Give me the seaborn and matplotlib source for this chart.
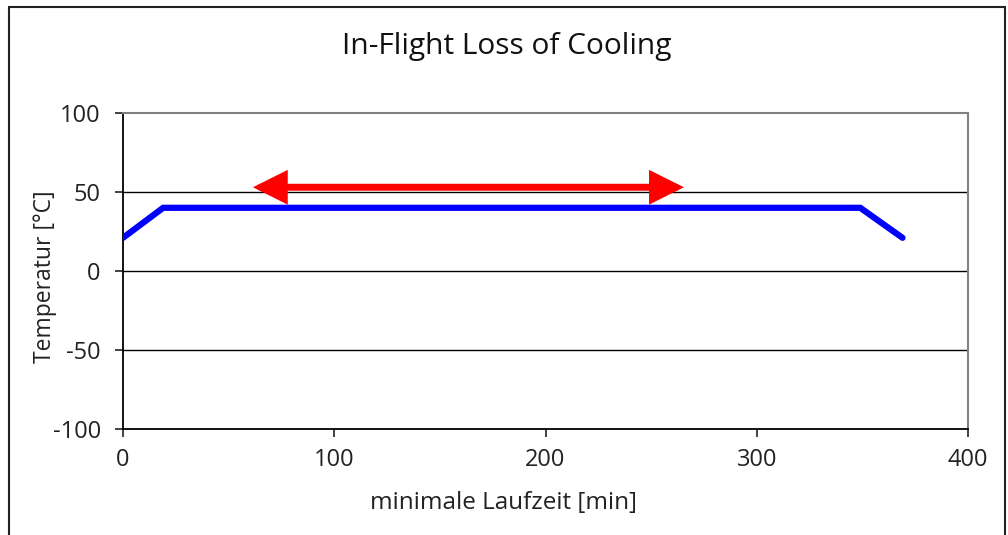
import matplotlib
matplotlib.use("Agg")
import matplotlib.pyplot as plt
import seaborn as sns
import pandas as pd
from matplotlib.patches import Rectangle

# Data
time_min = [0, 19, 349, 369]
temperature = [21, 40, 40, 21]
arrow_x = [61.5, 265.5]
arrow_y = 53
x_ticks = [0, 100, 200, 300, 400]
y_ticks = [-100, -50, 0, 50, 100]
title = "In-Flight Loss of Cooling"
xlabel = "minimale Laufzeit [min]"
ylabel = "Temperatur [°C]"

sns.set_theme(style="white")
plt.rcParams['font.family'] = ['Open Sans', 'DejaVu Sans']

fig = plt.figure(figsize=(10.08, 5.35), dpi=100)
ax = fig.add_axes([123/1008, 1-429/535, (968-123)/1008, (429-113)/535])

df = pd.DataFrame({"t": time_min, "T": temperature})
sns.lineplot(data=df, x="t", y="T", ax=ax, color="#0000FF", lw=4.5,
             solid_capstyle="round", solid_joinstyle="miter", zorder=3)

ax.annotate("", xy=(arrow_x[0], arrow_y), xytext=(arrow_x[1], arrow_y),
            arrowprops=dict(arrowstyle="<|-|>,head_length=17,head_width=8.5",
                            mutation_scale=1, color="#FF0000", lw=5,
                            shrinkA=0, shrinkB=0, joinstyle="miter"),
            zorder=4)

ax.set_xlim(0, 400)
ax.set_ylim(-100, 100)
ax.set_xticks(x_ticks)
ax.set_yticks(y_ticks)
ax.set_yticklabels([str(v) for v in y_ticks])
for v in y_ticks[1:-1]:
    ax.axhline(v, color="black", lw=1.0, zorder=1)

ax.tick_params(axis="both", direction="out", length=6, width=1.2,
               colors="#222222", labelsize=17, labelcolor="#222222")
ax.tick_params(axis="y", pad=10)
ax.tick_params(axis="x", pad=8)
ax.xaxis.set_ticks_position("bottom")
ax.yaxis.set_ticks_position("left")

for s in ["left", "bottom"]:
    ax.spines[s].set_color("black")
    ax.spines[s].set_linewidth(1.3)
for s in ["top", "right"]:
    ax.spines[s].set_color("#808080")
    ax.spines[s].set_linewidth(1.5)

ax.set_xlabel(xlabel, fontsize=17.5, color="#222222")
ax.set_ylabel(ylabel, fontsize=16.5, color="#222222")
ax.xaxis.label.set_va("center")
ax.yaxis.label.set_va("center")
ax.xaxis.set_label_coords((504-123)/845, (429-503)/316)
ax.yaxis.set_label_coords((45-123)/845, (429-277)/316)
fig.text(507/1008, 1-47/535, title, ha="center", va="center",
         fontsize=21.5, color="#111111")

fig.patches.append(Rectangle((9/1008, -0.05), (1005-9)/1008, 1-7/535+0.05,
                             transform=fig.transFigure, fill=False,
                             edgecolor="#222222", lw=1.5, zorder=0))

fig.savefig("out.png", dpi=100)
